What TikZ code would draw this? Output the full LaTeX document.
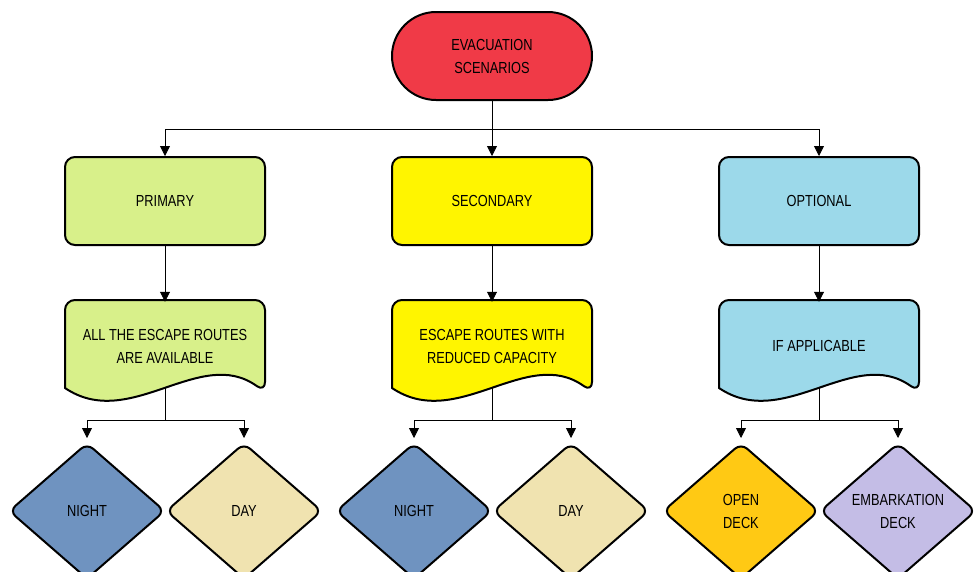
\documentclass[tikz,border=0pt]{standalone}
\usepackage{fontspec}
\newfontfamily\narrowsans{Liberation Sans}[FakeStretch=0.8]
\usetikzlibrary{arrows.meta,shapes.geometric,calc}
\definecolor{evacred}{HTML}{F03A47}
\definecolor{primgreen}{HTML}{D8F08A}
\definecolor{secyellow}{HTML}{FFF500}
\definecolor{optblue}{HTML}{9CD9EA}
\definecolor{nightblue}{HTML}{6F93C0}
\definecolor{daybeige}{HTML}{F0E3B0}
\definecolor{deckorange}{HTML}{FFC914}
\definecolor{decklilac}{HTML}{C4BDE6}
\tikzset{
  lbl/.style={font=\narrowsans\fontsize{16}{23}\selectfont,align=center,text=black},
  terminal/.style={lbl,draw,line width=2pt,rounded corners=44pt,minimum width=200pt,minimum height=88pt},
  stagebox/.style={lbl,draw,line width=2pt,rounded corners=10pt,minimum width=200pt,minimum height=88pt},
  docbox/.style={lbl,minimum width=200pt,minimum height=88pt},
  choice/.style={lbl,draw,line width=2pt,diamond,rounded corners=8pt,minimum width=156pt,minimum height=136pt,inner sep=0pt},
  arr/.style={line width=0.8pt,-{Triangle[length=10pt,width=10pt]}},
  link/.style={line width=0.8pt}
}
\begin{document}
\begin{tikzpicture}[x=1pt,y=-1pt]
\useasboundingbox (0,0) rectangle (975,571);
\clip (0,0) rectangle (975,571);
%document outlines
\foreach \cx/\col in {165/primgreen,492/secyellow,819/optblue}{
  \draw[line width=2pt,fill=\col,rounded corners=10pt]
    (\cx-100,388) -- (\cx-100,300) -- (\cx+100,300) -- (\cx+100,392)[sharp corners]
    .. controls (\cx+35,345) and (\cx-35,432) .. (\cx-100,388) -- cycle;
}
%nodes
\node[terminal,fill=evacred] (evac) at (492,56) {EVACUATION\\SCENARIOS};
\node[stagebox,fill=primgreen] (prim) at (165,201) {PRIMARY};
\node[stagebox,fill=secyellow] (sec) at (492,201) {SECONDARY};
\node[stagebox,fill=optblue] (opt) at (819,201) {OPTIONAL};
\node[docbox] (primdoc) at (165,346) {ALL THE ESCAPE ROUTES\\ARE AVAILABLE};
\node[docbox] (secdoc) at (492,346) {ESCAPE ROUTES WITH\\REDUCED CAPACITY};
\node[docbox] (optdoc) at (819,346) {IF APPLICABLE};
\node[choice,fill=nightblue] (night1) at (87,511) {NIGHT};
\node[choice,fill=daybeige] (day1) at (244,511) {DAY};
\node[choice,fill=nightblue] (night2) at (414,511) {NIGHT};
\node[choice,fill=daybeige] (day2) at (571,511) {DAY};
\node[choice,fill=deckorange] (open) at (741,511) {OPEN\\DECK};
\node[choice,fill=decklilac] (embark) at (898,511) {EMBARKATION\\DECK};
%junctions
\coordinate (hub) at (492,129);
\coordinate (primfoot) at (165,388);
\coordinate (secfoot) at (492,388);
\coordinate (optfoot) at (819,388);
\coordinate (primfork) at (165,420);
\coordinate (secfork) at (492,420);
\coordinate (optfork) at (819,420);
%connectors
\draw[arr] (evac.south) -- (sec.north);
\draw[arr] (hub) -| (prim.north);
\draw[arr] (hub) -| (opt.north);
\draw[arr] (prim.south) -- (primdoc.north);
\draw[arr] (sec.south) -- (secdoc.north);
\draw[arr] (opt.south) -- (optdoc.north);
\draw[link] (primfoot) -- (primfork);
\draw[link] (secfoot) -- (secfork);
\draw[link] (optfoot) -- (optfork);
\begin{scope}[shorten >=4pt]
\draw[arr] (primfork) -| (night1.north);
\draw[arr] (primfork) -| (day1.north);
\draw[arr] (secfork) -| (night2.north);
\draw[arr] (secfork) -| (day2.north);
\draw[arr] (optfork) -| (open.north);
\draw[arr] (optfork) -| (embark.north);
\end{scope}
\end{tikzpicture}
\end{document}
